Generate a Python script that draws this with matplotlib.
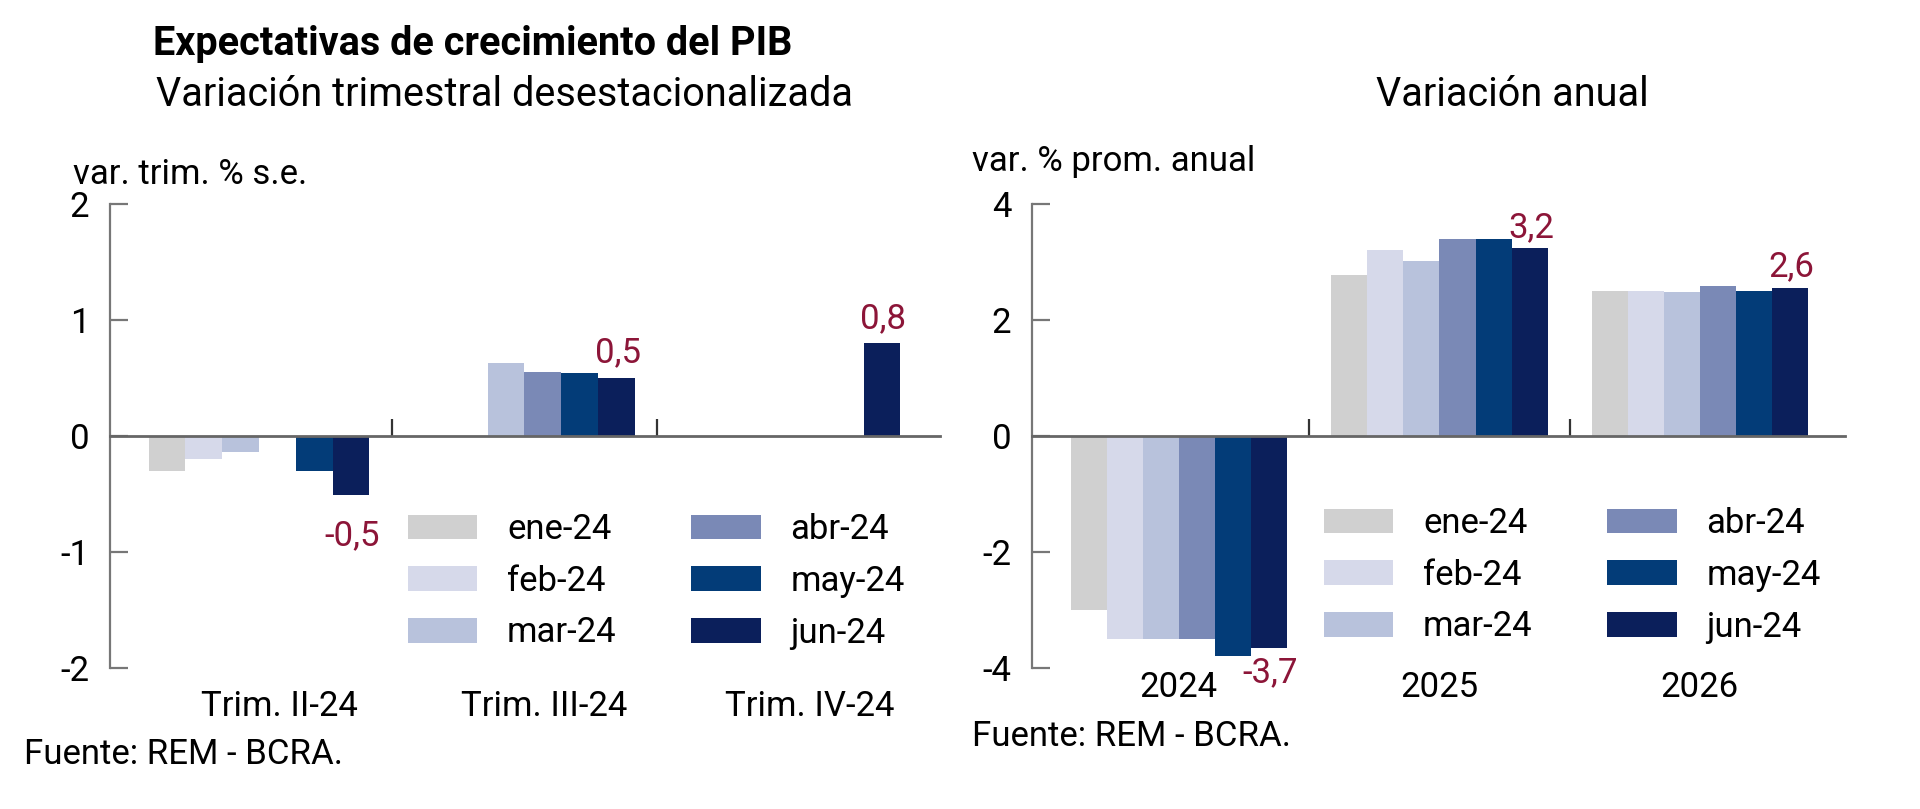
import numpy as np
import matplotlib
matplotlib.use("Agg")
import matplotlib.pyplot as plt
from matplotlib.transforms import ScaledTranslation

plt.rcParams['font.family'] = ['Roboto', 'DejaVu Sans']
plt.rcParams['axes.unicode_minus'] = False

# data
series = ['ene-24', 'feb-24', 'mar-24', 'abr-24', 'may-24', 'jun-24']
colors = ['#d0d0d0', '#d6d9ea', '#b8c2dc', '#7a89b6', '#033c78', '#0b1f5b']

trim_cats = ['Trim. II-24', 'Trim. III-24', 'Trim. IV-24']
trim_vals = [
    [-0.30, np.nan, np.nan],   # ene-24
    [-0.20, np.nan, np.nan],   # feb-24
    [-0.14, 0.63, np.nan],     # mar-24
    [np.nan, 0.55, np.nan],    # abr-24
    [-0.30, 0.54, np.nan],     # may-24
    [-0.51, 0.50, 0.80],       # jun-24
]

anual_cats = ['2024', '2025', '2026']
anual_vals = [
    [-3.00, 2.78, 2.50],
    [-3.50, 3.20, 2.50],
    [-3.50, 3.02, 2.48],
    [-3.50, 3.40, 2.58],
    [-3.80, 3.40, 2.50],
    [-3.66, 3.24, 2.56],
]

label_col = '#8c1538'
W, H = 1920, 809
fig = plt.figure(figsize=(W / 100, H / 100), dpi=100)
FS = 25

def draw(ax, cats, vals, ylim, yticks, xlim, label_pad, up_off, down_off, lab_shift):
    n = len(series)
    bw = 0.1386
    x = np.arange(len(cats))
    for i, (name, v) in enumerate(zip(series, vals)):
        ax.bar(x + (i - (n - 1) / 2) * bw, v, bw, color=colors[i], label=name, zorder=2)
    # value labels on last series
    last = vals[-1]
    for xi, v in zip(x, last):
        if np.isnan(v):
            continue
        xp = xi + (n - 1) / 2 * bw
        txt = ('%.1f' % v).replace('.', ',')
        if v < 0:
            ax.annotate(txt, (xp, v), xytext=(1, -down_off), textcoords='offset points',
                        ha='center', va='top', color=label_col, fontsize=FS)
        else:
            ax.annotate(txt, (xp, v), xytext=(1, up_off), textcoords='offset points',
                        ha='center', va='bottom', color=label_col, fontsize=FS)
    ax.set_ylim(*ylim)
    ax.set_xlim(*xlim)
    ax.set_yticks(yticks)
    for s in ['top', 'right']:
        ax.spines[s].set_visible(False)
    ax.spines['left'].set_color('#777777')
    ax.spines['left'].set_linewidth(1.6)
    ax.spines['bottom'].set_position(('data', 0))
    ax.spines['bottom'].set_color('#666666')
    ax.spines['bottom'].set_linewidth(2)
    ax.spines['bottom'].set_zorder(3)
    ax.tick_params(axis='y', direction='in', length=13, width=1.6, color='#777777',
                   labelsize=FS, pad=15)
    ax.set_xticks(x[:-1] + 0.5)
    ax.tick_params(axis='x', direction='in', length=12, width=1.6, color='#333333',
                   labelbottom=False)
    sec = ax.secondary_xaxis('bottom')
    sec.set_xticks(x, cats)
    sec.tick_params(length=0, labelsize=FS, pad=label_pad)
    sec.spines['bottom'].set_visible(False)
    for lab in sec.get_xticklabels():
        lab.set_transform(lab.get_transform() + ScaledTranslation(lab_shift / 100, 0, fig.dpi_scale_trans))
    return ax

top, bot = 204, 668
axl = fig.add_axes([110 / W, 1 - bot / H, 830 / W, (bot - top) / H])
draw(axl, trim_cats, trim_vals, (-2, 2), [-2, -1, 0, 1, 2], (-0.561, 2.565), 16, 6, 17, 20)

axr = fig.add_axes([1032 / W, 1 - bot / H, 813 / W, (bot - top) / H])
draw(axr, anual_cats, anual_vals, (-4, 4), [-4, -2, 0, 2, 4], (-0.564, 2.557), 2, 3, 6, 0)

leg_kw = dict(ncol=2, frameon=False, fontsize=FS, handlelength=2.0, handleheight=0.7,
              handletextpad=0.85, columnspacing=2.15, labelspacing=0.54,
              borderpad=0, borderaxespad=0, loc='upper left')
axl.legend(bbox_to_anchor=(408 / W, 1 - 513 / H), bbox_transform=fig.transFigure, **leg_kw)
axr.legend(bbox_to_anchor=(1324 / W, 1 - 507 / H), bbox_transform=fig.transFigure, **leg_kw)

fig.text(153 / W, 1 - 44 / H, 'Expectativas de crecimiento del PIB', fontsize=28.5,
         fontweight='bold', va='center', ha='left')
fig.text(156 / W, 1 - 94 / H, 'Variación trimestral desestacionalizada', fontsize=28.5,
         va='center', ha='left')
fig.text(1512 / W, 1 - 94 / H, 'Variación anual', fontsize=28.5, va='center', ha='center')
fig.text(73 / W, 1 - 174 / H, 'var. trim. % s.e.', fontsize=FS, va='center', ha='left')
fig.text(972 / W, 1 - 162 / H, 'var. % prom. anual', fontsize=FS, va='center', ha='left')
fig.text(24 / W, 1 - 754 / H, 'Fuente: REM - BCRA.', fontsize=FS, va='center', ha='left')
fig.text(972 / W, 1 - 736 / H, 'Fuente: REM - BCRA.', fontsize=FS, va='center', ha='left')

fig.savefig('out.png', dpi=100, facecolor='white')
